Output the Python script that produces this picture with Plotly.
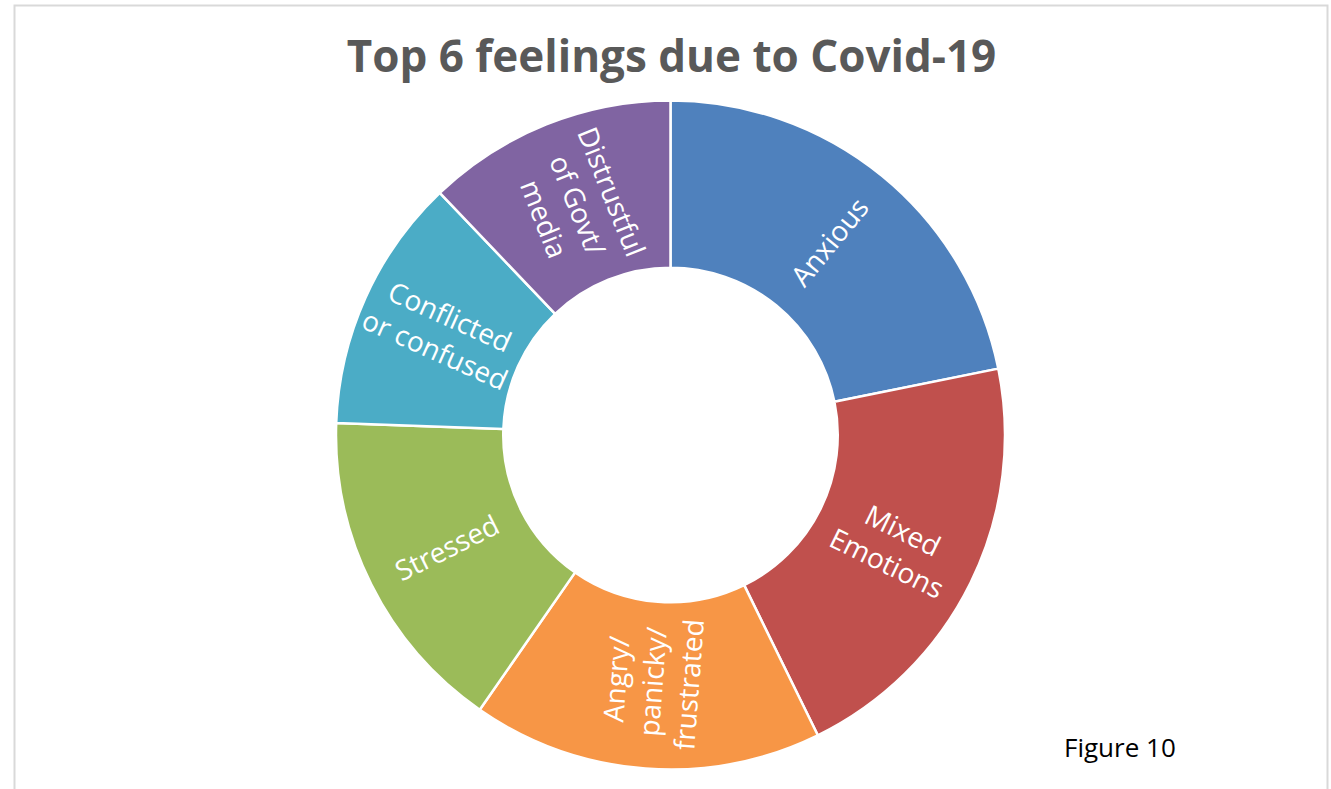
import math
import plotly.graph_objects as go

# Share of respondents reporting each feeling (%)
feelings = [
    "Anxious",
    "Mixed<br>Emotions",
    "Angry/<br>panicky/<br>frustrated",
    "Stressed",
    "Conflicted<br>or confused",
    "Distrustful<br>of Govt/<br>media",
]
shares = [21.8, 20.9, 16.9, 15.9, 12.3, 12.1]
colors = ["#4F81BD", "#C0504D", "#F79646", "#9BBB59", "#4BACC6", "#8064A2"]

W, H = 1331, 789
cx, cy, r = 670.5, 435.0, 334.5  # pixel centre and radius of the ring
HOLE = 0.5
LABEL_SIZE = 28

# Labels drawn by the pie itself; the one whose slice straddles the
# horizontal axis is placed separately so it keeps a radial slant.
free_label = 1
slice_text = [t if i != free_label else "" for i, t in enumerate(feelings)]

fig = go.Figure(
    go.Pie(
        labels=feelings,
        values=shares,
        text=slice_text,
        hole=HOLE,
        sort=False,
        direction="clockwise",
        rotation=0,
        marker=dict(colors=colors, line=dict(color="white", width=2.5)),
        textinfo="text",
        textposition="inside",
        insidetextorientation="radial",
        textfont=dict(family="Open Sans", size=LABEL_SIZE, color="white"),
        hoverinfo="label+percent",
        showlegend=False,
        domain=dict(
            x=[(cx - r) / W, (cx + r) / W],
            y=[(H - cy - r) / H, (H - cy + r) / H],
        ),
    )
)

# Radial label for the free slice: middle of the ring at the slice's mid-angle
total = sum(shares)
mid_deg = (sum(shares[:free_label]) + shares[free_label] / 2) / total * 360
rm = r * (1 + HOLE) / 2
px = cx + rm * math.sin(math.radians(mid_deg))
py = cy - rm * math.cos(math.radians(mid_deg))

fig.update_layout(
    width=W,
    height=H,
    margin=dict(l=0, r=0, t=0, b=0),
    paper_bgcolor="white",
    plot_bgcolor="white",
    uniformtext=dict(minsize=LABEL_SIZE, mode="show"),
    title=dict(
        text="<b>Top 6 feelings due to Covid-19</b>",
        font=dict(family="Open Sans", size=44, color="#595959"),
        x=671.5 / W,
        xanchor="center",
        y=1 - 57 / H,
        yanchor="middle",
        yref="container",
    ),
    annotations=[
        dict(
            text=feelings[free_label],
            x=px / W,
            y=1 - py / H,
            xref="paper",
            yref="paper",
            xanchor="center",
            yanchor="middle",
            textangle=mid_deg - 90,
            showarrow=False,
            font=dict(family="Open Sans", size=LABEL_SIZE, color="white"),
        ),
        dict(
            text="Figure 10",
            x=1119.5 / W,
            y=1 - 747 / H,
            xref="paper",
            yref="paper",
            xanchor="center",
            yanchor="middle",
            showarrow=False,
            font=dict(family="Open Sans", size=26, color="black"),
        ),
    ],
    shapes=[
        dict(
            type="rect",
            xref="paper",
            yref="paper",
            x0=14.5 / W,
            x1=1327.5 / W,
            y0=-0.05,
            y1=1 - 5.5 / H,
            line=dict(color="#D9D9D9", width=2),
            fillcolor="rgba(0,0,0,0)",
            layer="below",
        )
    ],
)

fig.write_html("out.html")
